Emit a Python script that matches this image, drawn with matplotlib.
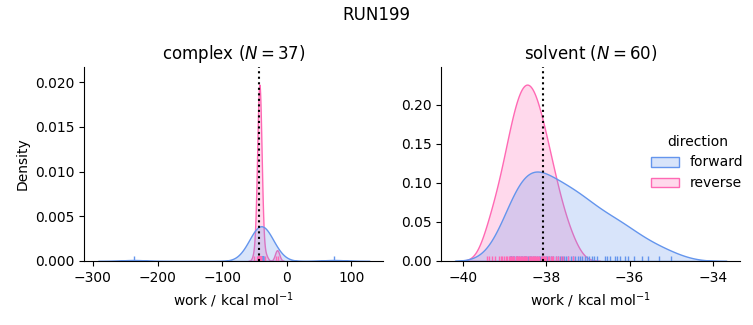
import numpy as np
import pandas as pd
import matplotlib
matplotlib.use("Agg")
import matplotlib.pyplot as plt
import seaborn as sns

### work values (kcal/mol)
complex_forward = [-237.0, 73.0,
                   -43.5, -43.0, -42.6, -42.2, -41.9, -41.6, -41.3, -41.0, -40.8, -40.6,
                   -40.4, -40.2, -40.0, -39.8, -39.6, -39.4, -39.2, -39.0, -38.8, -38.6,
                   -38.4, -38.2, -38.0, -37.8, -37.6, -37.4, -37.2, -37.0, -36.8, -36.5,
                   -36.2, -41.5, -40.1, -39.5, -38.3]
complex_reverse = [-50.0, -33.0, -16.0, -14.0,
                   -45.5, -44.8, -44.0, -43.7, -43.4, -43.2, -43.0, -42.9, -42.8, -42.7,
                   -42.6, -42.6, -42.5, -42.5, -42.4, -42.4, -42.3, -42.3, -42.2, -42.1,
                   -42.0, -41.9, -41.8, -41.6, -41.4, -41.2, -41.0, -40.7, -40.0, -39.5,
                   -42.7, -42.5, -42.9]
solvent_forward = [-38.87, -38.84, -38.80, -38.77, -38.73, -38.70, -38.66, -38.62, -38.59, -38.55,
                   -38.52, -38.48, -38.44, -38.40, -38.36, -38.32, -38.27, -38.23, -38.19, -38.15,
                   -38.11, -38.06, -38.02, -37.98, -37.93, -37.88, -37.83, -37.78, -37.73, -37.67,
                   -37.62, -37.57, -37.52, -37.47, -37.42, -37.36, -37.31, -37.25, -37.19, -37.14,
                   -37.08, -37.03, -36.97, -36.91, -36.85, -36.78, -36.30, -35.30, -36.60, -36.54,
                   -36.47, -38.85, -36.36, -36.24, -36.10, -36.05, -35.90, -35.70, -35.55, -35.00]
solvent_reverse = [-39.43, -39.38, -39.30, -39.23, -39.14, -39.10, -39.06, -39.02, -38.97, -38.94,
                   -38.91, -38.88, -38.85, -38.82, -38.80, -38.77, -38.74, -38.71, -38.70, -38.68,
                   -38.65, -38.63, -38.61, -38.59, -38.57, -38.55, -38.52, -38.51, -38.48, -38.46,
                   -38.43, -38.41, -38.39, -38.37, -38.35, -38.33, -38.31, -38.29, -38.27, -38.25,
                   -38.22, -38.20, -38.17, -38.14, -38.11, -38.09, -38.07, -38.04, -38.00, -37.97,
                   -37.93, -37.89, -37.86, -37.83, -37.78, -37.71, -37.66, -37.59, -37.47, -37.35]

phases = ["complex", "solvent"]
estimates = [-42.5, -38.08]

rows = []
for phase, fwd, rev in [("complex", complex_forward, complex_reverse),
                        ("solvent", solvent_forward, solvent_reverse)]:
    rows += [(phase, "forward", w) for w in fwd]
    rows += [(phase, "reverse", w) for w in rev]
df = pd.DataFrame(rows, columns=["phase", "direction", "work"])

g = sns.displot(data=df, x="work", col="phase", hue="direction", kind="kde",
                fill=True, rug=True, col_order=phases,
                hue_order=["forward", "reverse"],
                palette={"forward": "cornflowerblue", "reverse": "hotpink"},
                facet_kws=dict(sharex=False, sharey=False))

fig = g.figure
fig.set_size_inches(7.53, 3.25)

for ax, phase, est in zip(g.axes.flat, phases, estimates):
    n = len(df[(df.phase == phase) & (df.direction == "forward")])
    ax.set_title(f"{phase} ($N={n}$)", fontsize=12)
    ax.axvline(est, color="k", linestyle=":", linewidth=1.5)
    ax.set_xlabel("work / kcal mol$^{-1}$")
g.axes.flat[0].set_ylabel("Density")
g.axes.flat[1].set_ylabel("")

fig.suptitle("RUN199", fontsize=12)
fig.subplots_adjust(left=0.112, right=0.983, bottom=0.197, top=0.794, wspace=0.194)
sns.move_legend(g, loc="center left", bbox_to_anchor=(0.848, 0.5), frameon=False)

fig.savefig("out.png", dpi=100)
